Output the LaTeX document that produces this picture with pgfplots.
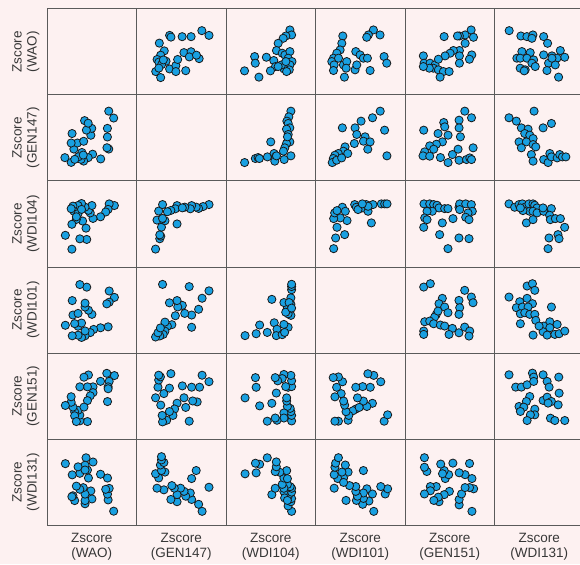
\documentclass[border=0pt]{standalone}
\usepackage{pgfplots}
\pgfplotsset{compat=1.18}
\usepackage{pgfplotstable}
\usepackage{fontspec}
\setmainfont{Liberation Sans}
\definecolor{bgpink}{RGB}{253,241,241}
\definecolor{ptblue}{RGB}{25,160,225}
\definecolor{gridgray}{RGB}{90,90,90}
\definecolor{txt}{RGB}{55,55,55}

% variables: A=WAO, B=GEN147, C=WDI104, D=WDI101, E=GEN151, F=WDI131
% table XY: x = variable Y, y = variable X (fractions of cell)
\pgfplotstableread{
x y
0.73 0.745
0.81 0.69
0.37 0.69
0.385 0.67
0.51 0.675
0.61 0.675
0.255 0.60
0.31 0.51
0.27 0.46
0.23 0.41
0.25 0.38
0.33 0.39
0.28 0.35
0.215 0.27
0.27 0.20
0.25 0.31
0.37 0.30
0.44 0.34
0.44 0.27
0.55 0.28
0.46 0.41
0.53 0.49
0.61 0.50
0.59 0.44
0.70 0.42
0.67 0.46
0.30 0.405
}\dataAB
\pgfplotstableread{
x y
0.714 0.753
0.733 0.695
0.669 0.683
0.639 0.656
0.583 0.598
0.564 0.514
0.320 0.444
0.327 0.367
0.207 0.278
0.368 0.205
0.451 0.436
0.534 0.398
0.553 0.328
0.496 0.278
0.628 0.483
0.658 0.463
0.714 0.502
0.695 0.425
0.737 0.386
0.714 0.347
0.707 0.290
0.647 0.301
0.677 0.270
0.620 0.347
0.583 0.328
0.669 0.386
}\dataAC
\pgfplotstableread{
x y
0.647 0.753
0.591 0.695
0.572 0.668
0.721 0.695
0.305 0.683
0.294 0.598
0.275 0.521
0.238 0.483
0.201 0.425
0.182 0.386
0.208 0.347
0.201 0.282
0.257 0.425
0.312 0.347
0.349 0.386
0.342 0.309
0.323 0.205
0.442 0.290
0.461 0.347
0.450 0.502
0.498 0.463
0.535 0.425
0.580 0.425
0.610 0.282
0.766 0.444
0.796 0.367
}\dataAD
\pgfplotstableread{
x y
0.739 0.753
0.672 0.695
0.765 0.668
0.608 0.683
0.586 0.683
0.437 0.676
0.672 0.598
0.608 0.514
0.541 0.514
0.504 0.483
0.448 0.452
0.608 0.452
0.746 0.463
0.720 0.413
0.608 0.367
0.205 0.452
0.213 0.367
0.280 0.367
0.336 0.347
0.373 0.413
0.317 0.309
0.373 0.290
0.429 0.270
0.493 0.270
0.392 0.205
0.272 0.309
0.205 0.328
}\dataAE
\pgfplotstableread{
x y
0.164 0.745
0.295 0.683
0.362 0.676
0.429 0.695
0.418 0.656
0.549 0.676
0.593 0.598
0.306 0.502
0.399 0.490
0.250 0.425
0.287 0.425
0.362 0.425
0.437 0.405
0.418 0.367
0.455 0.328
0.287 0.309
0.343 0.290
0.332 0.278
0.549 0.463
0.642 0.452
0.735 0.514
0.784 0.436
0.698 0.425
0.604 0.367
0.679 0.347
0.586 0.282
0.716 0.205
0.642 0.425
}\dataAF
\pgfplotstableread{
x y
0.725 0.810
0.702 0.744
0.680 0.694
0.695 0.667
0.713 0.616
0.676 0.601
0.695 0.539
0.713 0.453
0.676 0.434
0.657 0.384
0.642 0.345
0.500 0.453
0.208 0.213
0.328 0.260
0.358 0.271
0.373 0.260
0.463 0.279
0.537 0.318
0.552 0.279
0.545 0.229
0.564 0.291
0.650 0.248
0.725 0.291
0.687 0.512
}\dataBC
\pgfplotstableread{
x y
0.723 0.810
0.637 0.733
0.509 0.694
0.442 0.616
0.300 0.616
0.772 0.589
0.461 0.539
0.554 0.512
0.434 0.434
0.536 0.461
0.610 0.453
0.584 0.368
0.330 0.395
0.311 0.345
0.360 0.318
0.255 0.318
0.217 0.298
0.199 0.260
0.187 0.213
0.236 0.240
0.292 0.267
0.798 0.291
}\dataBD
\pgfplotstableread{
x y
0.668 0.810
0.743 0.733
0.209 0.589
0.433 0.678
0.444 0.628
0.369 0.550
0.481 0.531
0.604 0.705
0.604 0.616
0.619 0.512
0.418 0.453
0.351 0.426
0.276 0.407
0.321 0.368
0.220 0.337
0.201 0.291
0.276 0.287
0.396 0.271
0.481 0.213
0.530 0.306
0.593 0.368
0.604 0.240
0.687 0.248
0.724 0.267
0.743 0.248
0.761 0.384
}\dataBE
\pgfplotstableread{
x y
0.442 0.810
0.162 0.733
0.244 0.694
0.543 0.616
0.636 0.667
0.300 0.616
0.375 0.601
0.338 0.550
0.394 0.531
0.431 0.492
0.274 0.453
0.356 0.453
0.300 0.384
0.431 0.422
0.461 0.395
0.412 0.306
0.431 0.229
0.550 0.248
0.599 0.213
0.618 0.318
0.636 0.279
0.700 0.267
0.729 0.306
0.759 0.279
0.797 0.279
}\dataBF
\pgfplotstableread{
x y
0.203 0.213
0.225 0.337
0.326 0.376
0.240 0.461
0.352 0.539
0.277 0.570
0.203 0.562
0.214 0.628
0.300 0.694
0.333 0.647
0.240 0.655
0.438 0.725
0.456 0.694
0.493 0.678
0.531 0.686
0.568 0.725
0.587 0.647
0.624 0.512
0.642 0.725
0.587 0.705
0.736 0.733
0.773 0.733
0.799 0.733
0.475 0.667
0.523 0.733
}\dataCD
\pgfplotstableread{
x y
0.212 0.733
0.276 0.733
0.320 0.725
0.358 0.717
0.380 0.686
0.443 0.678
0.480 0.678
0.305 0.647
0.246 0.647
0.220 0.570
0.209 0.461
0.246 0.550
0.417 0.512
0.536 0.562
0.387 0.376
0.480 0.213
0.603 0.694
0.611 0.733
0.678 0.733
0.741 0.725
0.752 0.647
0.704 0.628
0.678 0.578
0.715 0.550
0.603 0.337
0.715 0.329
0.611 0.667
}\dataCE
\pgfplotstableread{
x y
0.162 0.733
0.225 0.694
0.274 0.725
0.311 0.733
0.337 0.694
0.385 0.733
0.430 0.733
0.449 0.717
0.475 0.686
0.393 0.647
0.430 0.647
0.475 0.628
0.549 0.647
0.635 0.678
0.542 0.686
0.616 0.601
0.624 0.550
0.680 0.562
0.736 0.562
0.356 0.512
0.430 0.550
0.784 0.461
0.709 0.376
0.609 0.337
0.721 0.329
0.598 0.213
0.318 0.655
0.289 0.686
}\dataCF
\pgfplotstableread{
x y
0.209 0.767
0.283 0.806
0.667 0.729
0.741 0.651
0.760 0.585
0.417 0.636
0.380 0.574
0.443 0.535
0.480 0.469
0.350 0.450
0.331 0.419
0.369 0.488
0.603 0.612
0.611 0.527
0.603 0.450
0.220 0.364
0.276 0.372
0.320 0.341
0.395 0.326
0.443 0.314
0.529 0.287
0.603 0.236
0.667 0.302
0.723 0.256
0.715 0.198
0.492 0.217
0.209 0.256
0.209 0.217
}\dataDE
\pgfplotstableread{
x y
0.162 0.651
0.364 0.779
0.424 0.806
0.450 0.729
0.282 0.597
0.364 0.636
0.424 0.574
0.244 0.527
0.312 0.535
0.375 0.535
0.289 0.457
0.338 0.469
0.394 0.450
0.450 0.450
0.461 0.380
0.289 0.341
0.636 0.535
0.618 0.364
0.550 0.314
0.618 0.295
0.700 0.333
0.543 0.248
0.588 0.209
0.674 0.217
0.722 0.225
0.785 0.256
0.431 0.209
0.498 0.314
}\dataDF
\pgfplotstableread{
x y
0.162 0.748
0.424 0.767
0.438 0.721
0.543 0.748
0.718 0.721
0.588 0.671
0.610 0.605
0.237 0.605
0.300 0.605
0.364 0.632
0.438 0.671
0.394 0.496
0.356 0.438
0.274 0.380
0.327 0.372
0.289 0.322
0.450 0.349
0.450 0.283
0.401 0.283
0.543 0.450
0.588 0.488
0.636 0.438
0.711 0.399
0.722 0.535
0.364 0.217
0.625 0.244
0.674 0.217
0.785 0.217
0.599 0.419
}\dataEF

\pgfplotsset{
  cellstyle/.style={
    scale only axis, width=89.5pt, height=86.1pt,
    xmin=0, xmax=1, ymin=0, ymax=1,
    hide axis, anchor=south west, clip=false},
  scat/.style={only marks, mark=*, mark size=4.1pt,
    mark options={fill=ptblue, draw=black!90, line width=0.8pt}}
}
% #1 col left, #2 row bottom, #3 table, #4 x column, #5 y column
\newcommand{\cellplot}[5]{%
  \begin{axis}[cellstyle, at={(#1pt,#2pt)}]
    \addplot[scat] table[x=#4, y=#5] {#3};
  \end{axis}}

\begin{document}
\begin{tikzpicture}
\path[use as bounding box, fill=bgpink] (0pt,0pt) rectangle (580pt,564pt);
% grid
\foreach \xx in {47,136.5,226,315.5,405,494.5,584}
  \draw[gridgray, line width=0.9pt] (\xx pt,38.7pt) -- (\xx pt,555.3pt);
\foreach \yy in {38.7,124.8,210.9,297.0,383.1,469.2,555.3}
  \draw[gridgray, line width=0.9pt] (47pt,\yy pt) -- (584pt,\yy pt);
% row 1 (WAO)
\cellplot{136.5}{469.2}{\dataAB}{x}{y}
\cellplot{226}{469.2}{\dataAC}{x}{y}
\cellplot{315.5}{469.2}{\dataAD}{x}{y}
\cellplot{405}{469.2}{\dataAE}{x}{y}
\cellplot{494.5}{469.2}{\dataAF}{x}{y}
% row 2 (GEN147)
\cellplot{47}{383.1}{\dataAB}{y}{x}
\cellplot{226}{383.1}{\dataBC}{x}{y}
\cellplot{315.5}{383.1}{\dataBD}{x}{y}
\cellplot{405}{383.1}{\dataBE}{x}{y}
\cellplot{494.5}{383.1}{\dataBF}{x}{y}
% row 3 (WDI104)
\cellplot{47}{297.0}{\dataAC}{y}{x}
\cellplot{136.5}{297.0}{\dataBC}{y}{x}
\cellplot{315.5}{297.0}{\dataCD}{x}{y}
\cellplot{405}{297.0}{\dataCE}{x}{y}
\cellplot{494.5}{297.0}{\dataCF}{x}{y}
% row 4 (WDI101)
\cellplot{47}{210.9}{\dataAD}{y}{x}
\cellplot{136.5}{210.9}{\dataBD}{y}{x}
\cellplot{226}{210.9}{\dataCD}{y}{x}
\cellplot{405}{210.9}{\dataDE}{x}{y}
\cellplot{494.5}{210.9}{\dataDF}{x}{y}
% row 5 (GEN151)
\cellplot{47}{124.8}{\dataAE}{y}{x}
\cellplot{136.5}{124.8}{\dataBE}{y}{x}
\cellplot{226}{124.8}{\dataCE}{y}{x}
\cellplot{315.5}{124.8}{\dataDE}{y}{x}
\cellplot{494.5}{124.8}{\dataEF}{x}{y}
% row 6 (WDI131)
\cellplot{47}{38.7}{\dataAF}{y}{x}
\cellplot{136.5}{38.7}{\dataBF}{y}{x}
\cellplot{226}{38.7}{\dataCF}{y}{x}
\cellplot{315.5}{38.7}{\dataDF}{y}{x}
\cellplot{405}{38.7}{\dataEF}{y}{x}
% labels
\tikzset{lab/.style={text=txt, align=center, font=\fontsize{13.5}{15}\selectfont, inner sep=0pt}}
\node[lab, rotate=90] at (25.8pt,512.25pt) {Zscore\\(WAO)};
\node[lab, rotate=90] at (25.8pt,426.15pt) {Zscore\\(GEN147)};
\node[lab, rotate=90] at (25.8pt,340.05pt) {Zscore\\(WDI104)};
\node[lab, rotate=90] at (25.8pt,253.95pt) {Zscore\\(WDI101)};
\node[lab, rotate=90] at (25.8pt,167.85pt) {Zscore\\(GEN151)};
\node[lab, rotate=90] at (25.8pt,81.75pt) {Zscore\\(WDI131)};
\node[lab] at (91.75pt,17pt) {Zscore\\(WAO)};
\node[lab] at (181.25pt,17pt) {Zscore\\(GEN147)};
\node[lab] at (270.75pt,17pt) {Zscore\\(WDI104)};
\node[lab] at (360.25pt,17pt) {Zscore\\(WDI101)};
\node[lab] at (449.75pt,17pt) {Zscore\\(GEN151)};
\node[lab] at (539.25pt,17pt) {Zscore\\(WDI131)};
\end{tikzpicture}
\end{document}
